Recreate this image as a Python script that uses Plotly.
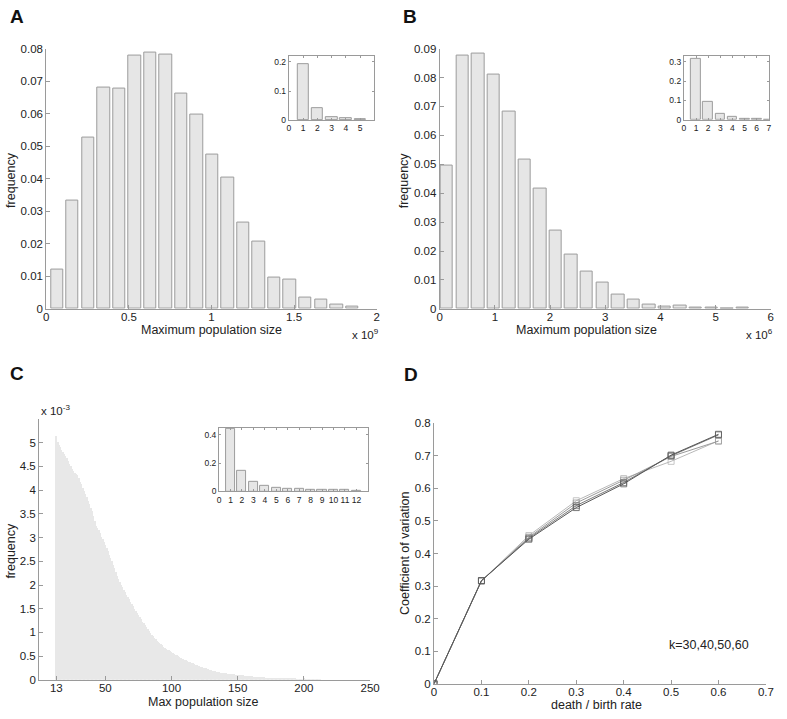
import plotly.graph_objects as go

W, H = 787, 719

# ---------------- data ----------------
# Panel A (x 1e9)
a_centers = [0.065, 0.159, 0.253, 0.347, 0.441, 0.535, 0.629, 0.723, 0.817, 0.911,
             1.005, 1.099, 1.193, 1.287, 1.381, 1.475, 1.569, 1.663, 1.757, 1.851]
a_freq = [0.0120, 0.0333, 0.0525, 0.0679, 0.0676, 0.0779, 0.0787, 0.0783, 0.0661, 0.0597,
          0.0473, 0.0404, 0.0266, 0.0208, 0.0097, 0.0090, 0.0036, 0.0028, 0.0012, 0.0006]
a_inset_x = [1, 2, 3, 4, 5]
a_inset_freq = [0.192, 0.040, 0.010, 0.0055, 0.002]

# Panel B (x 1e6)
b_centers = [0.130, 0.412, 0.694, 0.976, 1.258, 1.540, 1.822, 2.104, 2.386, 2.668,
             2.950, 3.232, 3.514, 3.796, 4.078, 4.360, 4.642, 4.924, 5.206, 5.488]
b_freq = [0.0494, 0.0877, 0.0881, 0.0811, 0.0682, 0.0516, 0.0415, 0.0270, 0.0186, 0.0128,
          0.0092, 0.0050, 0.0032, 0.0014, 0.0007, 0.0011, 0.0003, 0.0003, 0.0, 0.0003]
b_inset_x = [1, 2, 3, 4, 5, 6, 7]
b_inset_freq = [0.313, 0.092, 0.032, 0.015, 0.007, 0.003, 0.002]

# Panel C (x 1e-3), max population size 13..212
c_sizes = list(range(13, 213))
c_freq = [
    5.15, 5.02, 4.95, 4.90, 4.85, 4.80, 4.76, 4.72, 4.68, 4.62,
    4.56, 4.50, 4.45, 4.41, 4.37, 4.35, 4.31, 4.25, 4.18, 4.12,
    4.05, 3.99, 3.92, 3.86, 3.78, 3.70, 3.63, 3.55, 3.46, 3.36,
    3.25, 3.20, 3.15, 3.09, 3.02, 2.96, 2.90, 2.85, 2.78, 2.71,
    2.64, 2.57, 2.50, 2.43, 2.35, 2.27, 2.20, 2.12, 2.07, 2.01,
    1.96, 1.90, 1.85, 1.80, 1.75, 1.70, 1.65, 1.60, 1.55, 1.50,
    1.45, 1.41, 1.36, 1.32, 1.28, 1.23, 1.19, 1.15, 1.11, 1.07,
    1.03, 0.99, 0.95, 0.92, 0.89, 0.86, 0.83, 0.80, 0.78, 0.75,
    0.73, 0.70, 0.68, 0.66, 0.64, 0.62, 0.60, 0.58, 0.56, 0.55,
    0.53, 0.52, 0.50, 0.48, 0.47, 0.45, 0.44, 0.42, 0.41, 0.40,
    0.38, 0.37, 0.36, 0.35, 0.33, 0.32, 0.31, 0.30, 0.29, 0.28,
    0.27, 0.26, 0.25, 0.24, 0.23, 0.22, 0.21, 0.20, 0.195, 0.188,
    0.180, 0.173, 0.166, 0.160, 0.155, 0.150, 0.145, 0.140, 0.136, 0.132,
    0.128, 0.124, 0.120, 0.117, 0.114, 0.111, 0.108, 0.105, 0.102, 0.099,
    0.096, 0.093, 0.090, 0.087, 0.084, 0.081, 0.078, 0.075, 0.073, 0.070,
    0.068, 0.066, 0.063, 0.061, 0.059, 0.057, 0.055, 0.052, 0.050, 0.048,
    0.046, 0.044, 0.042, 0.041, 0.039, 0.037, 0.036, 0.035, 0.033, 0.032,
    0.030, 0.029, 0.028, 0.026, 0.025, 0.024, 0.023, 0.022, 0.021, 0.020,
    0.019, 0.018, 0.017, 0.016, 0.016, 0.015, 0.014, 0.030, 0.012, 0.011,
    0.010, 0.009, 0.008, 0.007, 0.006, 0.005, 0.004, 0.003, 0.002, 0.002,
]
c_inset_x = [1, 2, 3, 4, 5, 6, 7, 8, 9, 10, 11, 12]
c_inset_freq = [0.44, 0.143, 0.068, 0.042, 0.026, 0.021, 0.016, 0.012, 0.009, 0.009, 0.009, 0.007]

# Panel D
d_ratio = [0, 0.1, 0.2, 0.3, 0.4, 0.5, 0.6]
d_k30 = [0, 0.316, 0.455, 0.562, 0.630, 0.683, 0.746]
d_k40 = [0, 0.316, 0.450, 0.555, 0.625, 0.698, 0.745]
d_k50 = [0, 0.316, 0.447, 0.547, 0.618, 0.700, 0.764]
d_k60 = [0, 0.317, 0.444, 0.541, 0.614, 0.702, 0.766]

# ---------------- helpers ----------------
FONT = "Liberation Sans, Arial, Helvetica, sans-serif"
AXC = "#9a9a9a"
TXT = "#222222"
BAR_FILL = "#e6e6e6"
BAR_LINE = "#9c9c9c"


def dx(x0, x1):
    return [x0 / W, x1 / W]


def dy(top, bottom):
    return [1 - bottom / H, 1 - top / H]


def axis(domain, rng, tickvals, anchor, size=11.5, mirror=False, ticklen=4, standoff=0):
    return dict(domain=domain, range=rng, tickvals=tickvals, anchor=anchor,
                showline=True, linecolor=AXC, linewidth=1, mirror=mirror,
                ticks="inside", ticklen=ticklen, tickcolor=AXC, tickwidth=1,
                showgrid=False, zeroline=False, fixedrange=True,
                ticklabelstandoff=standoff,
                tickfont=dict(family=FONT, size=size, color=TXT))


fig = go.Figure()


def bars(x, y, width, xa, ya, fill=BAR_FILL, line=BAR_LINE, lw=1):
    fig.add_trace(go.Bar(x=x, y=y, width=width, xaxis=xa, yaxis=ya,
                         marker=dict(color=fill, line=dict(color=line, width=lw)),
                         showlegend=False, hoverinfo="skip"))


# Panel A
bars(a_centers, a_freq, 0.8 * 0.094, "x", "y")
bars(a_inset_x, a_inset_freq, 0.8, "x2", "y2")
# Panel B
bars(b_centers, b_freq, 0.8 * 0.282, "x3", "y3")
bars(b_inset_x, b_inset_freq, 0.8, "x4", "y4")
# Panel C
bars(c_sizes, c_freq, 0.8, "x5", "y5", fill="#e8e8e8", line="#e8e8e8", lw=0)
bars(c_inset_x, c_inset_freq, 0.8, "x6", "y6")
# Panel D
for ys, col in [(d_k30, "#b8b8b8"), (d_k40, "#9a9a9a"), (d_k50, "#7a7a7a"), (d_k60, "#575757")]:
    fig.add_trace(go.Scatter(x=d_ratio, y=ys, mode="lines+markers", xaxis="x7", yaxis="y7",
                             line=dict(color=col, width=1),
                             marker=dict(symbol="square-open", size=6, color=col,
                                         line=dict(color=col, width=0.8)),
                             showlegend=False, hoverinfo="skip"))

IN = 8.5
layout = dict(
    width=W, height=H, margin=dict(l=0, r=0, t=0, b=0),
    paper_bgcolor="white", plot_bgcolor="white", bargap=0, barmode="overlay",
    font=dict(family=FONT, color=TXT),
    # A
    xaxis=axis(dx(44, 380), [0, 2], [0, 0.5, 1, 1.5, 2], "y", standoff=-3),
    yaxis=axis(dy(43.3, 308), [0, 0.08], [0, 0.01, 0.02, 0.03, 0.04, 0.05, 0.06, 0.07, 0.08], "x"),
    xaxis2=axis(dx(290.6, 377.7), [0, 6], [0, 1, 2, 3, 4, 5], "y2", IN, "ticks", 2),
    yaxis2=axis(dy(51, 116), [0, 0.22], [0, 0.1, 0.2], "x2", IN, "ticks", 2),
    # B
    xaxis3=axis(dx(444, 780.7), [0, 6], [0, 1, 2, 3, 4, 5, 6], "y3", standoff=-3),
    yaxis3=axis(dy(43.3, 308), [0, 0.09], [0, 0.01, 0.02, 0.03, 0.04, 0.05, 0.06, 0.07, 0.08, 0.09], "x3"),
    xaxis4=axis(dx(692.3, 778.7), [0, 7], [0, 1, 2, 3, 4, 5, 6, 7], "y4", IN, "ticks", 2),
    yaxis4=axis(dy(50.7, 115.7), [0, 0.33], [0, 0.1, 0.2, 0.3], "x4", IN, "ticks", 2),
    # C
    xaxis5=axis(dx(36.7, 373.3), [0, 250], [13, 50, 100, 150, 200, 250], "y5", standoff=-3),
    yaxis5=axis(dy(420, 685.3), [0, 5.5], [0, 0.5, 1, 1.5, 2, 2.5, 3, 3.5, 4, 4.5, 5], "x5"),
    xaxis6=axis(dx(219.7, 371), [0, 13], list(range(0, 13)), "y6", IN, "ticks", 2),
    yaxis6=axis(dy(429, 493.7), [0, 0.45], [0, 0.2, 0.4], "x6", IN, "ticks", 2),
    # D
    xaxis7=axis(dx(438.3, 775.7), [0, 0.7], [0, 0.1, 0.2, 0.3, 0.4, 0.5, 0.6, 0.7], "y7", standoff=-3),
    yaxis7=axis(dy(424.3, 689.3), [0, 0.8], [0, 0.1, 0.2, 0.3, 0.4, 0.5, 0.6, 0.7, 0.8], "x7"),
)
fig.update_layout(**layout)


def note(text, x, y, size=12.5, bold=False, angle=0, xanchor="center", color=TXT):
    fig.add_annotation(text=f"<b>{text}</b>" if bold else text, x=x / W, y=1 - y / H,
                       xref="paper", yref="paper", showarrow=False, textangle=angle,
                       xanchor=xanchor, yanchor="middle",
                       font=dict(family=FONT, size=size, color=color))


# Panel letters
note("A", 14, 11, 19, True, color="#111")
note("B", 414, 11, 19, True, color="#111")
note("C", 14.5, 374, 19, True, color="#111")
note("D", 414.5, 375, 19, True, color="#111")

# Axis titles
note("Maximum population size", 212, 329)
note("Maximum population size", 593, 329)
note("Max population size", 204, 708)
note("death / birth rate", 603, 711)
note("frequency", 8, 177, angle=-90)
note("frequency", 408, 177, angle=-90)
note("frequency", 8, 554, angle=-90)
note("Coefficient of variation", 408, 557, angle=-90)

# Exponent labels
note("x 10<sup>9</sup>", 353, 334, 11.5, xanchor="left")
note("x 10<sup>6</sup>", 753, 334, 11.5, xanchor="left")
note("x 10<sup>-3</sup>", 37, 411, 11.5, xanchor="left")

# D annotation
note("k=30,40,50,60", 717.5, 650, 12.5)

fig.write_html("out.html", config={"displayModeBar": False},
               post_script="document.body.style.margin='0px';document.body.style.overflow='hidden';")
